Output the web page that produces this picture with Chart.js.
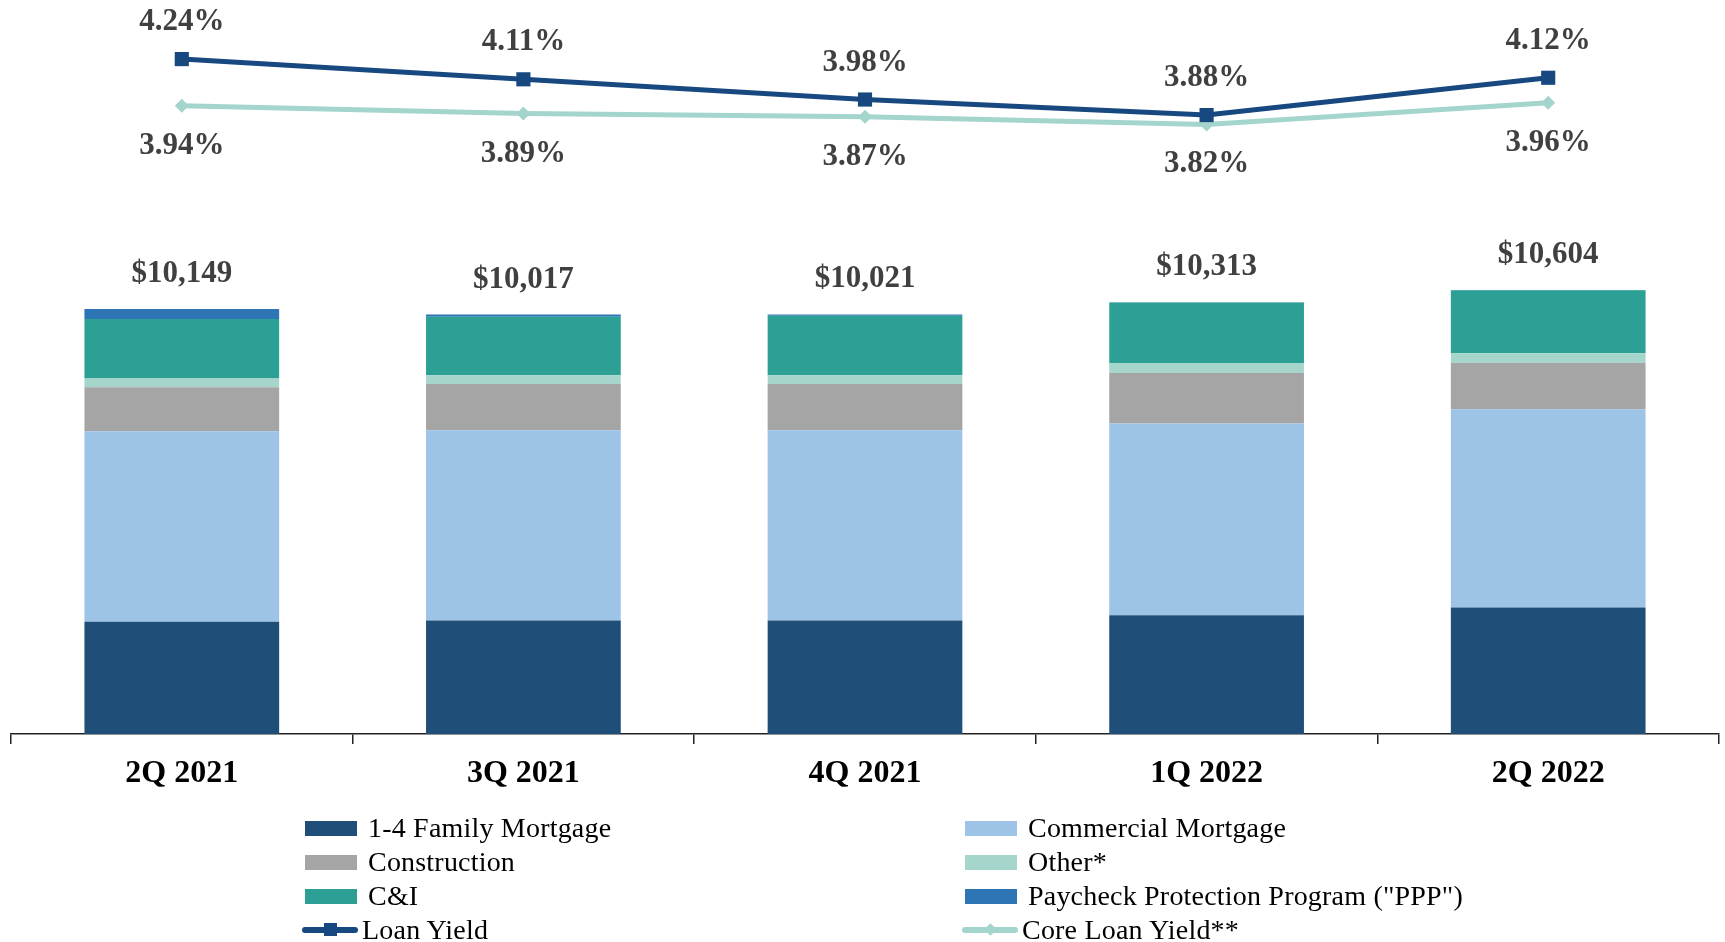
<!DOCTYPE html>
<html>
<head>
    <title>Loan Portfolio</title>
    <script src="https://cdn.jsdelivr.net/npm/chart.js@4.4.1/dist/chart.umd.min.js"></script>
    <style>
        body {
            margin: 0;
            background-color: #ffffff;
            font-family: "Liberation Serif", "DejaVu Serif", serif;
        }
        #wrap {
            position: relative;
            width: 1725px;
            height: 942px;
        }
        #legend {
            position: absolute;
            left: 0;
            top: 0;
            width: 1725px;
            height: 942px;
            pointer-events: none;
        }
        .lg {
            position: absolute;
            display: flex;
            align-items: center;
            height: 34px;
            font-size: 28px;
            letter-spacing: 0.2px;
            color: #000000;
            white-space: nowrap;
        }
        .sw {
            width: 52px;
            height: 15px;
            margin-right: 11px;
        }
        .ln {
            position: relative;
            width: 56px;
            height: 16px;
            margin-right: 4px;
        }
        .ln .bar {
            position: absolute;
            left: 0;
            right: 0;
            top: 5px;
            height: 6px;
            border-radius: 3px;
        }
        .ln .mk {
            position: absolute;
            left: 22px;
            top: 1px;
            width: 13px;
            height: 13px;
        }
        .ln .mk.dia {
            left: 24px;
            top: 3px;
            width: 9px;
            height: 9px;
            transform: rotate(45deg);
        }
    </style>
</head>
<body>
<div id="wrap">
    <canvas id="loanChart"></canvas>
    <div id="legend"></div>
</div>

<script>
    // quarters and loan balances ($ millions)
    const quarters = ['2Q 2021', '3Q 2021', '4Q 2021', '1Q 2022', '2Q 2022'];
    const family14 = [2682, 2708, 2708, 2839, 3023];
    const commercialMortgage = [4548, 4548, 4548, 4574, 4732];
    const construction = [1052, 1104, 1104, 1209, 1104];
    const otherLoans = [210, 210, 210, 237, 237];
    const cAndI = [1420, 1394, 1420, 1446, 1503];
    const ppp = [237, 53, 31, 8, 5];

    // yields (%)
    const loanYield = [4.24, 4.11, 3.98, 3.88, 4.12];
    const coreLoanYield = [3.94, 3.89, 3.87, 3.82, 3.96];

    const labelColor = '#404040';

    function barSet(label, data, color) {
        return {
            type: 'bar',
            label: label,
            data: data,
            backgroundColor: color,
            borderWidth: 0,
            yAxisID: 'y',
            order: 2
        };
    }

    // totals above the bars, yields above / below the points
    const labelsPlugin = {
        id: 'valueLabels',
        afterDatasetsDraw(chart) {
            const ctx = chart.ctx;
            const yScale = chart.scales.y;
            const xScale = chart.scales.x;
            ctx.save();
            ctx.fillStyle = labelColor;
            ctx.textAlign = 'center';
            ctx.textBaseline = 'middle';

            quarters.forEach(function (q, i) {
                let total = 0;
                chart.data.datasets.forEach(function (ds) {
                    if (ds.type === 'bar') total += ds.data[i];
                });
                const x = xScale.getPixelForValue(i);
                const y = yScale.getPixelForValue(total) - 35;
                ctx.font = 'bold 31px "Liberation Serif"';
                ctx.fillText('$' + total.toLocaleString('en-US'), x, y);
            });

            chart.data.datasets.forEach(function (ds, di) {
                if (ds.type !== 'line') return;
                const meta = chart.getDatasetMeta(di);
                meta.data.forEach(function (pt, i) {
                    const dy = ds.labelAbove ? -37 : 40;
                    ctx.font = 'bold 31px "Liberation Serif"';
                    ctx.fillText(ds.data[i].toFixed(2) + '%', pt.x, pt.y + dy);
                });
            });
            ctx.restore();
        }
    };

    const ctx = document.getElementById('loanChart').getContext('2d');

    const chart = new Chart(ctx, {
        data: {
            labels: quarters,
            datasets: [
                barSet('1-4 Family Mortgage', family14, '#1F4E79'),
                barSet('Commercial Mortgage', commercialMortgage, '#9DC3E6'),
                barSet('Construction', construction, '#A5A5A5'),
                barSet('Other*', otherLoans, '#A6D5CC'),
                barSet('C&I', cAndI, '#2CA094'),
                barSet('Paycheck Protection Program ("PPP")', ppp, '#2E75B6'),
                {
                    type: 'line',
                    label: 'Loan Yield',
                    data: loanYield,
                    borderColor: '#17487F',
                    backgroundColor: '#17487F',
                    borderWidth: 5,
                    pointStyle: 'rect',
                    pointRadius: 10,
                    pointBorderWidth: 0,
                    yAxisID: 'y1',
                    labelAbove: true,
                    order: 0
                },
                {
                    type: 'line',
                    label: 'Core Loan Yield**',
                    data: coreLoanYield,
                    borderColor: '#A3D5CC',
                    backgroundColor: '#A3D5CC',
                    borderWidth: 5,
                    pointStyle: 'rectRot',
                    pointRadius: 7,
                    pointBorderWidth: 0,
                    yAxisID: 'y1',
                    labelAbove: false,
                    order: 1
                }
            ]
        },
        options: {
            responsive: true,
            maintainAspectRatio: false,
            animation: false,
            layout: {
                autoPadding: false,
                padding: { left: 11, right: 6, top: 0, bottom: 0 }
            },
            datasets: {
                bar: {
                    categoryPercentage: 1,
                    barPercentage: 0.57
                }
            },
            plugins: {
                legend: { display: false },
                tooltip: { enabled: false }
            },
            scales: {
                x: {
                    stacked: true,
                    afterFit: function (scale) { scale.height = 208; },
                    border: { display: true, color: '#222222', width: 1.5 },
                    grid: {
                        offset: true,
                        drawOnChartArea: false,
                        drawTicks: true,
                        tickLength: 10,
                        color: '#222222',
                        lineWidth: 1.5
                    },
                    ticks: {
                        padding: 11,
                        color: '#000000',
                        font: { family: 'Liberation Serif', size: 32, weight: 'bold' }
                    }
                },
                y: {
                    stacked: true,
                    display: false,
                    min: 0,
                    max: 17530
                },
                y1: {
                    display: false,
                    min: -0.1,
                    max: 4.62
                }
            }
        },
        plugins: [labelsPlugin]
    });

    // two-column legend built from the datasets
    const legend = document.getElementById('legend');
    const colLeft = [305, 965];
    const rowMid = [828, 862, 896, 930];
    chart.data.datasets.forEach(function (ds, i) {
        const item = document.createElement('div');
        item.className = 'lg';
        const col = i % 2;
        const row = Math.floor(i / 2);
        item.style.left = (ds.type === 'line' ? colLeft[col] - 3 : colLeft[col]) + 'px';
        item.style.top = (rowMid[row] - 17) + 'px';
        let sym;
        if (ds.type === 'bar') {
            sym = document.createElement('div');
            sym.className = 'sw';
            sym.style.background = ds.backgroundColor;
        } else {
            sym = document.createElement('div');
            sym.className = 'ln';
            const b = document.createElement('div');
            b.className = 'bar';
            b.style.background = ds.borderColor;
            const m = document.createElement('div');
            m.className = ds.pointStyle === 'rect' ? 'mk' : 'mk dia';
            m.style.background = ds.borderColor;
            sym.appendChild(b);
            sym.appendChild(m);
        }
        const txt = document.createElement('span');
        txt.textContent = ds.label;
        item.appendChild(sym);
        item.appendChild(txt);
        legend.appendChild(item);
    });
</script>
</body>
</html>
